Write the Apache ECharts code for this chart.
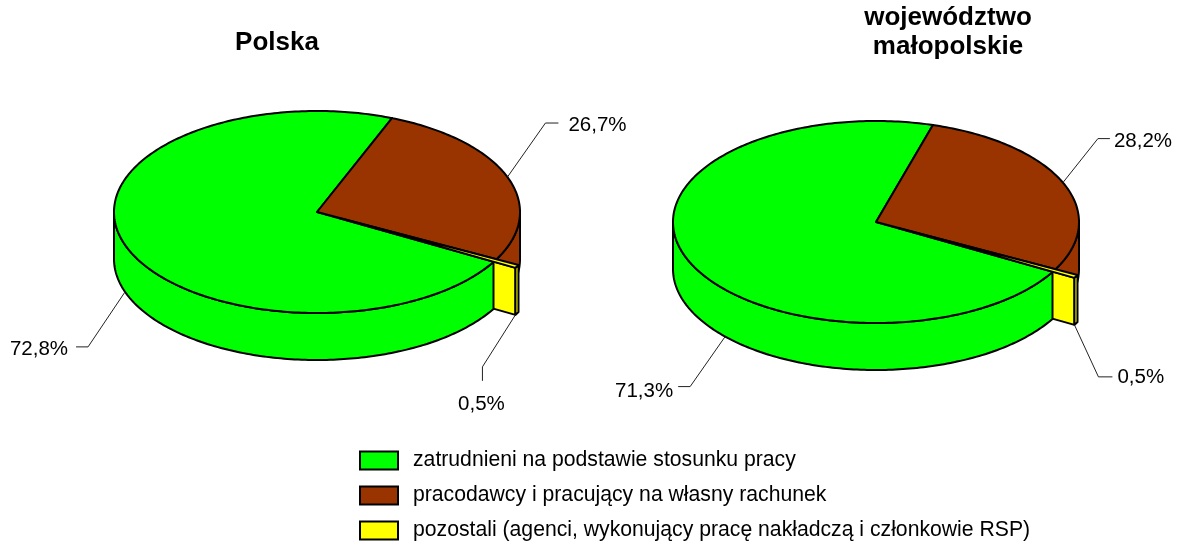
<!DOCTYPE html>
<html>
<head>
<meta charset="utf-8">
<script src="https://cdn.jsdelivr.net/npm/echarts@6/dist/echarts.min.js"></script>
<style>html,body{margin:0;padding:0;background:#fff}#chart{width:1180px;height:545px}</style>
</head>
<body>
<div id="chart"></div>
<script>
// data
var pieNames = ['Polska', 'województwo\nmałopolskie'];
var categories = [
  'zatrudnieni na podstawie stosunku pracy',
  'pracodawcy i pracujący na własny rachunek',
  'pozostali (agenci, wykonujący pracę nakładczą i członkowie RSP)'
];
var polska = [72.8, 26.7, 0.5];
var malopolskie = [71.3, 28.2, 0.5];
var values = [polska, malopolskie];

// look
var FONT = '"Liberation Sans", Arial, sans-serif';
var colors = ['#00ff00', '#993300', '#ffff00'];
var RX = 203, RY = 101, DEPTH = 47, START = 29.6;
var explode = [0, 0, 25];
var pieLayout = [{cx: 317, cy: 212}, {cx: 876, cy: 222}];
// leader lines: anchor angle (null = middle of slice), elbow/end offsets, text offset
var labelLayout = [
  [
    {a: 161, bottom: true, elbow: [-37, 55], end: [-12, 0], text: [-8, 2], align: 'right'},
    {a: null, bottom: false, elbow: [38, -54], end: [13, 0], text: [10, 2], align: 'left'},
    {a: 'end', bottom: true, elbow: [-33, 52], end: [0, 14], text: [-1, 23], align: 'center'}
  ],
  [
    {a: 138, bottom: true, elbow: [-35, 50], end: [-12, 0], text: [-5, 5], align: 'right'},
    {a: null, bottom: false, elbow: [35, -44], end: [12, 0], text: [4, 3], align: 'left'},
    {a: 'end', bottom: true, elbow: [24, 52], end: [14, 0], text: [5, 0], align: 'left'}
  ]
];

var rad = Math.PI / 180;

function renderSlice(params, api) {
  var c = params.seriesIndex, p = params.dataIndex;
  var vals = values[p];
  var total = 0;
  vals.forEach(function (v) { total += v; });
  var s = START;
  for (var k = 0; k < c; k++) s += vals[k] / total * 360;
  var e = s + api.value(1) / total * 360;
  var mid = (s + e) / 2;
  var L = pieLayout[p];
  var cx = L.cx + explode[c] * Math.cos(mid * rad);
  var cy = L.cy + explode[c] * RY / RX * Math.sin(mid * rad);

  function pt(t, down) {
    return [cx + RX * Math.cos(t * rad), cy + RY * Math.sin(t * rad) + (down ? DEPTH : 0)];
  }
  function arc(a, b, down) {
    var n = Math.max(2, Math.ceil(Math.abs(b - a)));
    var pts = [];
    for (var i = 0; i <= n; i++) pts.push(pt(a + (b - a) * i / n, down));
    return pts;
  }
  function avgY(pts) {
    var y = 0;
    pts.forEach(function (q) { y += q[1]; });
    return y / pts.length;
  }
  var style = {fill: colors[c], stroke: '#000', lineWidth: 2, lineJoin: 'round'};
  var children = [];

  // outer wall, front half only
  for (var r = -1; r <= 2; r++) {
    var a = Math.max(s, r * 360), b = Math.min(e, r * 360 + 180);
    if (b > a) {
      var w = arc(a, b, false).concat(arc(b, a, true));
      children.push({type: 'polygon', shape: {points: w}, style: style, z2: avgY(w)});
    }
  }
  // cut faces
  [[s, -Math.cos(s * rad)], [e, Math.cos(e * rad)]].forEach(function (f) {
    if (f[1] > 0) {
      var q = [[cx, cy], pt(f[0], false), pt(f[0], true), [cx, cy + DEPTH]];
      children.push({type: 'polygon', shape: {points: q}, style: style, z2: avgY(q)});
    }
  });
  // top
  children.push({type: 'polygon', shape: {points: [[cx, cy]].concat(arc(s, e, false))}, style: style, z2: 1000 + c});

  // label with leader line
  var lb = labelLayout[p][c];
  var at = lb.a === null ? mid : (lb.a === 'end' ? e : lb.a);
  var p0 = pt(at, lb.bottom);
  var p1 = [p0[0] + lb.elbow[0], p0[1] + lb.elbow[1]];
  var p2 = [p1[0] + lb.end[0], p1[1] + lb.end[1]];
  children.push({type: 'polyline', shape: {points: [p0, p1, p2]},
    style: {stroke: '#222', lineWidth: 1, fill: null}, z2: 2000});
  children.push({type: 'text', z2: 2001, style: {
    text: api.value(1).toFixed(1).replace('.', ',') + '%',
    x: p2[0] + lb.text[0], y: p2[1] + lb.text[1],
    align: lb.align, verticalAlign: 'middle',
    font: '20.5px ' + FONT, fill: '#000'
  }});

  return {type: 'group', children: children};
}

var myChart = echarts.init(document.getElementById('chart'));
var option = {
  backgroundColor: '#fff',
  animation: false,
  title: [{
    text: pieNames[0], left: 277, top: 28, textAlign: 'center', padding: 0,
    textStyle: {fontSize: 26, fontWeight: 'bold', fontFamily: FONT, color: '#000', lineHeight: 29}
  }, {
    text: pieNames[1], left: 948, top: 3, textAlign: 'center', padding: 0,
    textStyle: {fontSize: 26, fontWeight: 'bold', fontFamily: FONT, color: '#000', lineHeight: 29}
  }],
  legend: {
    orient: 'vertical', left: 359, top: 450, padding: 0,
    icon: 'rect', itemWidth: 38, itemHeight: 18, itemGap: 14,
    selectedMode: false,
    itemStyle: {borderColor: '#000', borderWidth: 2},
    textStyle: {fontSize: 21.2, lineHeight: 21, color: '#000', fontFamily: FONT, padding: [0, 0, 0, 10]},
    data: categories
  },
  series: categories.map(function (name, c) {
    return {
      type: 'custom',
      name: name,
      coordinateSystem: 'none',
      silent: true,
      itemStyle: {color: colors[c]},
      data: values.map(function (v, p) { return [p, v[c]]; }),
      renderItem: renderSlice
    };
  })
};
myChart.setOption(option);
</script>
</body>
</html>
